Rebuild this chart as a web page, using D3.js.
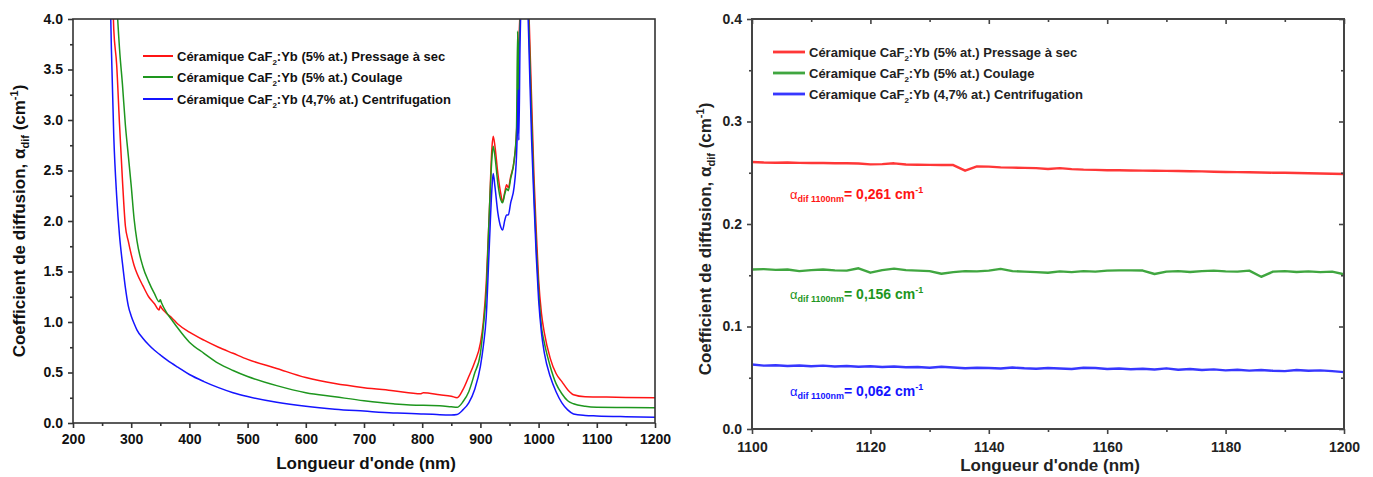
<!DOCTYPE html>
<html><head><meta charset="utf-8">
<script src="https://cdn.jsdelivr.net/npm/d3@7"></script>
<style>
body{margin:0;background:#fff}
svg{display:block}
text{font-family:"Liberation Sans",Arial,Helvetica,sans-serif;font-weight:bold}
</style>
</head><body>
<svg id="c" width="1373" height="477"></svg>
<script>
// ---------- DATA : left panel (200-1200 nm) ----------
const leftWavelengths = [262,266,270,275,280,285,290,295,300,305,310,320,330,340,348,350,352,360,370,380,400,425,450,475,500,550,600,650,700,750,798,802,830,850,860,870,880,890,900,905,910,915,920,922,925,930,935,938,942,945,948,952,958,962,964,965,966,968,972,976,980,984,988,992,996,1000,1005,1010,1020,1030,1040,1050,1060,1080,1100,1150,1200];
const leftRed = [5.5,4.6,3.9,3.55,2.95,2.4,1.95,1.8,1.67,1.56,1.48,1.36,1.25,1.18,1.12,1.16,1.14,1.09,1.04,0.98,0.90,0.82,0.75,0.69,0.63,0.54,0.45,0.39,0.35,0.32,0.29,0.30,0.28,0.265,0.25,0.33,0.46,0.60,0.79,1.0,1.38,2.04,2.74,2.84,2.74,2.47,2.27,2.19,2.29,2.36,2.33,2.44,2.60,2.87,3.2,3.53,3.75,4.05,4.6,4.8,4.6,3.95,3.2,2.45,1.9,1.42,1.08,0.89,0.64,0.49,0.41,0.33,0.28,0.26,0.258,0.253,0.249];
const leftGreen = [6.5,5.8,5.0,4.2,3.7,3.35,2.95,2.65,2.35,2.02,1.8,1.55,1.40,1.28,1.20,1.22,1.19,1.10,1.02,0.94,0.80,0.69,0.59,0.52,0.46,0.37,0.30,0.26,0.22,0.19,0.175,0.175,0.17,0.16,0.155,0.21,0.31,0.49,0.69,0.95,1.29,2.04,2.64,2.74,2.64,2.37,2.21,2.18,2.27,2.32,2.30,2.42,2.60,2.90,3.88,3.2,3.6,3.95,4.6,4.8,4.6,3.8,3.0,2.3,1.75,1.32,0.95,0.79,0.56,0.39,0.29,0.22,0.19,0.165,0.156,0.154,0.152];
const leftBlue = [4.8,3.7,2.85,2.25,1.85,1.58,1.34,1.16,1.06,0.985,0.92,0.84,0.775,0.72,0.683,0.674,0.665,0.63,0.59,0.553,0.48,0.41,0.35,0.30,0.262,0.205,0.165,0.137,0.118,0.10,0.09,0.09,0.082,0.08,0.085,0.13,0.20,0.33,0.56,0.76,1.05,1.71,2.34,2.47,2.34,2.08,1.94,1.91,2.01,2.06,2.06,2.18,2.34,2.64,3.0,3.3,2.8,3.7,4.5,4.8,4.4,3.6,2.8,2.2,1.65,1.22,0.89,0.69,0.46,0.31,0.20,0.13,0.09,0.075,0.07,0.062,0.056];
const leftXTicks = [200,300,400,500,600,700,800,900,1000,1100,1200];
const leftYTicks = [0,0.5,1.0,1.5,2.0,2.5,3.0,3.5,4.0];

// ---------- DATA : right panel (1100-1200 nm) ----------
const rightWavelengths = [1100,1102,1104,1106,1108,1110,1112,1114,1116,1118,1120,1122,1124,1126,1128,1130,1132,1134,1136,1138,1140,1142,1144,1146,1148,1150,1152,1154,1156,1158,1160,1162,1164,1166,1168,1170,1172,1174,1176,1178,1180,1182,1184,1186,1188,1190,1192,1194,1196,1198,1200];
const rightRed = [0.2605,0.2600,0.2598,0.2600,0.2596,0.2595,0.2595,0.2593,0.2592,0.2590,0.2582,0.2584,0.2592,0.2580,0.2578,0.2577,0.2576,0.2575,0.2520,0.2562,0.2560,0.2552,0.2550,0.2548,0.2545,0.2537,0.2545,0.2535,0.2530,0.2528,0.2525,0.2524,0.2522,0.2521,0.2520,0.2518,0.2517,0.2515,0.2513,0.2510,0.2508,0.2506,0.2505,0.2503,0.2500,0.2500,0.2497,0.2495,0.2493,0.2490,0.2488];
const rightGreen = [0.1556,0.1560,0.1552,0.1556,0.1540,0.1550,0.1556,0.1548,0.1545,0.1568,0.1525,0.1550,0.1565,0.1550,0.1545,0.1540,0.1515,0.1530,0.1540,0.1538,0.1545,0.1562,0.1540,0.1535,0.1530,0.1525,0.1538,0.1530,0.1540,0.1535,0.1545,0.1548,0.1548,0.1546,0.1512,0.1535,0.1540,0.1532,0.1540,0.1545,0.1538,0.1535,0.1545,0.1485,0.1535,0.1540,0.1532,0.1538,0.1530,0.1535,0.1510];
const rightBlue = [0.0630,0.0618,0.0622,0.0615,0.0620,0.0612,0.0618,0.0610,0.0615,0.0608,0.0612,0.0605,0.0610,0.0602,0.0605,0.0598,0.0608,0.0600,0.0592,0.0598,0.0595,0.0590,0.0600,0.0592,0.0588,0.0595,0.0590,0.0585,0.0598,0.0595,0.0585,0.0590,0.0583,0.0588,0.0580,0.0592,0.0578,0.0585,0.0575,0.0582,0.0572,0.0578,0.0570,0.0575,0.0568,0.0565,0.0575,0.0568,0.0572,0.0565,0.0555];
const rightXTicks = [1100,1120,1140,1160,1180,1200];
const rightYTicks = [0.0,0.1,0.2,0.3,0.4];
const annotValues = ["0,261","0,156","0,062"];

const seriesLabels = [
  {pre:"Céramique CaF", sub:"2", post:":Yb (5% at.) Pressage à sec"},
  {pre:"Céramique CaF", sub:"2", post:":Yb (5% at.) Coulage"},
  {pre:"Céramique CaF", sub:"2", post:":Yb (4,7% at.) Centrifugation"}
];
const colors = ["#ff1414","#1e961e","#1414ff"];

const svg = d3.select("#c");
let clipId = 0;

function panel(o){
  const g = svg.append("g");
  const x = d3.scaleLinear().domain(o.xDom).range(o.xRange);
  const y = d3.scaleLinear().domain(o.yDom).range(o.yRange);
  const id = "clip"+(clipId++);
  svg.append("clipPath").attr("id",id).append("rect")
    .attr("x",o.xRange[0]).attr("y",o.yRange[1])
    .attr("width",o.xRange[1]-o.xRange[0]).attr("height",o.yRange[0]-o.yRange[1]);

  const line = d3.line().x(d=>x(d[0])).y(d=>y(d[1])).curve(o.curve);
  o.series.forEach((s,i)=>{
    g.append("path").datum(o.wl.map((w,k)=>[w,s[k]]))
      .attr("clip-path","url(#"+id+")")
      .attr("fill","none").attr("stroke",colors[i]).attr("stroke-opacity",o.lineOpacity)
      .attr("stroke-width",o.lw).attr("stroke-linejoin","round")
      .attr("d",line);
  });

  const axColor = o.axColor;
  function styleAxis(sel){
    sel.select(".domain").remove();
    sel.selectAll("line").attr("stroke",axColor).attr("stroke-width",1.6);
    sel.selectAll("text").attr("fill",o.textColor).attr("font-size",o.tickFont+"px")
      .style("font-family","'Liberation Sans',Arial,sans-serif").style("font-weight","bold");
  }
  g.append("g").attr("transform",`translate(0,${o.yRange[0]})`)
    .call(d3.axisBottom(x).tickValues(o.xMinor).tickSize(3).tickFormat(""))
    .call(styleAxis);
  g.append("g").attr("transform",`translate(0,${o.yRange[0]})`)
    .call(d3.axisBottom(x).tickValues(o.xTicks).tickSize(5).tickPadding(o.xPad).tickFormat(d3.format("d")))
    .call(styleAxis);
  g.append("g").attr("transform",`translate(${o.xRange[0]},0)`)
    .call(d3.axisLeft(y).tickValues(o.yMinor).tickSize(3).tickFormat(""))
    .call(styleAxis);
  g.append("g").attr("transform",`translate(${o.xRange[0]},0)`)
    .call(d3.axisLeft(y).tickValues(o.yTicks).tickSize(5).tickPadding(5).tickFormat(d3.format(o.yFmt)))
    .call(styleAxis);
  if(o.mirror){
    g.append("g").attr("transform",`translate(0,${o.yRange[1]})`)
      .call(d3.axisBottom(x).tickValues(o.xTicks).tickSize(5).tickFormat("")).call(styleAxis);
    g.append("g").attr("transform",`translate(0,${o.yRange[1]})`)
      .call(d3.axisBottom(x).tickValues(o.xMinor).tickSize(3).tickFormat("")).call(styleAxis);
    g.append("g").attr("transform",`translate(${o.xRange[1]},0)`)
      .call(d3.axisLeft(y).tickValues(o.yTicks).tickSize(5).tickFormat("")).call(styleAxis);
    g.append("g").attr("transform",`translate(${o.xRange[1]},0)`)
      .call(d3.axisLeft(y).tickValues(o.yMinor).tickSize(3).tickFormat("")).call(styleAxis);
  }
  g.append("rect").attr("x",o.xRange[0]).attr("y",o.yRange[1])
    .attr("width",o.xRange[1]-o.xRange[0]).attr("height",o.yRange[0]-o.yRange[1])
    .attr("fill","none").attr("stroke",axColor).attr("stroke-width",o.frameW);

  g.append("text").attr("x",o.xTitlePos[0]).attr("y",o.xTitlePos[1])
    .attr("text-anchor","middle").attr("font-size","17px").attr("fill",o.textColor)
    .text("Longueur d'onde (nm)");
  const yt = g.append("text").attr("transform",`translate(${o.yTitlePos[0]},${o.yTitlePos[1]}) rotate(-90)`)
    .attr("text-anchor","middle").attr("font-size","17px").attr("fill",o.textColor);
  yt.append("tspan").text("Coefficient de diffusion, α");
  yt.append("tspan").attr("font-size","11px").attr("dy",4).text("dif");
  yt.append("tspan").attr("dy",-4).text(" (cm");
  yt.append("tspan").attr("font-size","11px").attr("dy",-7).text("-1");
  yt.append("tspan").attr("dy",7).text(")");

  seriesLabels.forEach((s,i)=>{
    const ly = o.legY[i];
    g.append("line").attr("x1",o.legX[0]).attr("x2",o.legX[1]).attr("y1",ly).attr("y2",ly)
      .attr("stroke",colors[i]).attr("stroke-opacity",o.lineOpacity).attr("stroke-width",o.legLW);
    const t = g.append("text").attr("x",o.legX[1]+4).attr("y",ly+4.5)
      .attr("font-size","13px").attr("fill",o.textColor);
    t.append("tspan").text(s.pre);
    t.append("tspan").attr("font-size","8px").attr("dy",4).text(s.sub);
    t.append("tspan").attr("dy",-4).text(s.post);
  });
  return {x,y,g};
}

panel({
  xDom:[200,1200], xRange:[73,655], yDom:[0,4], yRange:[423,19],
  wl:leftWavelengths, series:[leftRed,leftGreen,leftBlue], lw:1.5, lineOpacity:1, curve:d3.curveMonotoneX,
  xTicks:leftXTicks, xMinor:d3.range(250,1200,100), yTicks:leftYTicks, yMinor:d3.range(0.25,4,0.5),
  yFmt:".1f", xPad:6, tickFont:14, axColor:"#333", textColor:"#111", frameW:1.6, mirror:false,
  xTitlePos:[366,469], yTitlePos:[25,221],
  legX:[143,173], legY:[56,77,99], legLW:2
});

const R = panel({
  xDom:[1100,1200], xRange:[752,1344], yDom:[0,0.4], yRange:[429,19],
  wl:rightWavelengths, series:[rightRed,rightGreen,rightBlue], lw:2.4, lineOpacity:0.85, curve:d3.curveLinear,
  xTicks:rightXTicks, xMinor:d3.range(1110,1200,20), yTicks:rightYTicks, yMinor:d3.range(0.05,0.4,0.1),
  yFmt:".1f", xPad:8, tickFont:14, axColor:"#444", textColor:"#222", frameW:2, mirror:true,
  xTitlePos:[1050,471], yTitlePos:[711,239],
  legX:[773,805], legY:[52,73,94], legLW:2.8
});

const annotY = [199,299,396];
annotValues.forEach((v,i)=>{
  const t = R.g.append("text").attr("x",790).attr("y",annotY[i]).attr("fill",colors[i]).attr("font-size","14px");
  t.append("tspan").attr("font-size","13px").style("font-weight","normal").text("α");
  t.append("tspan").attr("font-size","9px").attr("dy",3).text("dif 1100nm");
  t.append("tspan").attr("dy",-3).text("= "+v+" cm");
  t.append("tspan").attr("font-size","9px").attr("dy",-6).text("-1");
});
</script>
</body></html>
